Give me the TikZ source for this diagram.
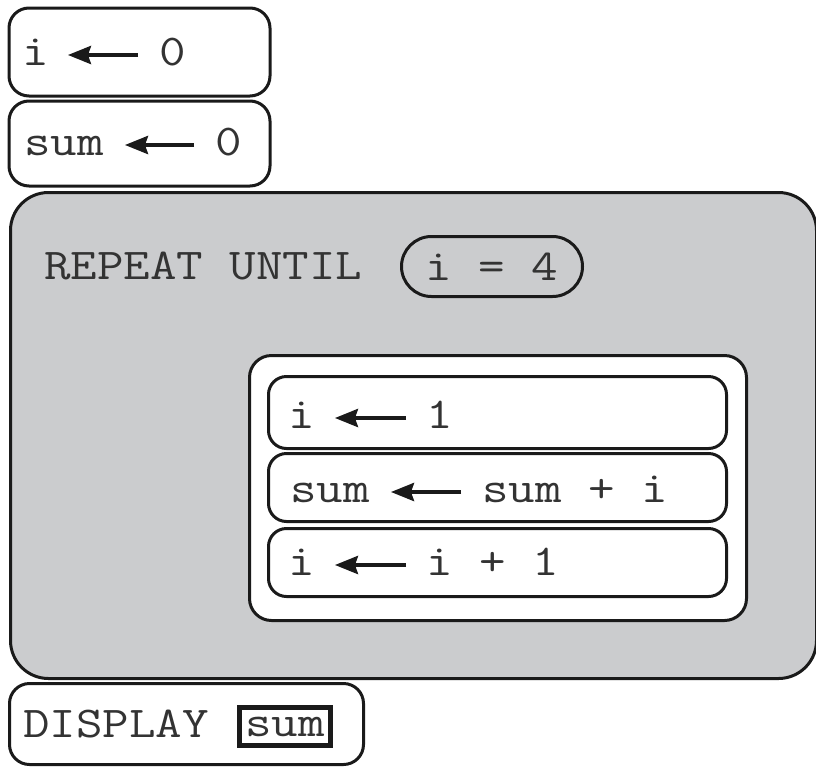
\documentclass[tikz,border=0pt]{standalone}
\usepackage{fontspec}
\setmonofont{Latin Modern Mono}[FakeStretch=1.17]
\usetikzlibrary{arrows.meta}
\definecolor{panelgray}{HTML}{CBCCCE}
\definecolor{ink}{HTML}{1A1A1A}
\definecolor{txtc}{HTML}{333333}
\tikzset{
  box/.style={draw=ink, line width=3pt, fill=white, rectangle, inner sep=0pt},
  txt/.style={inner sep=0pt, text=txtc, font=\fontsize{44}{48}\selectfont\ttfamily},
  asg/.style={draw=ink, line width=4pt, -{Stealth[length=23pt,width=18pt,inset=3pt]}},
}
\begin{document}
\begin{tikzpicture}[x=1pt,y=-1pt]
\useasboundingbox (0,0) rectangle (816,766);
% top statements
\node[box, rounded corners=20pt, minimum width=261pt, minimum height=88pt] (s1) at (139.5,52) {};
\node[box, rounded corners=20pt, minimum width=261pt, minimum height=85pt] (s2) at (139.5,143.5) {};
% repeat panel
\node[box, fill=panelgray, rounded corners=38pt, minimum width=806pt, minimum height=486pt] (rep) at (413.5,435.5) {};
\node[txt, anchor=base west] (reptxt) at (44,279) {REPEAT UNTIL};
\node[box, fill=panelgray, rounded corners=30pt, minimum width=181pt, minimum height=60pt, txt, draw=ink, line width=3pt] (cond) at (492,266.5) {i = 4};
% inner body
\node[box, rounded corners=22pt, minimum width=497pt, minimum height=265pt] (body) at (498,488) {};
\node[box, rounded corners=18pt, minimum width=458pt, minimum height=72pt] (b1) at (497.5,412.5) {};
\node[box, rounded corners=18pt, minimum width=458pt, minimum height=68pt] (b2) at (497.5,487.5) {};
\node[box, rounded corners=18pt, minimum width=458pt, minimum height=68pt] (b3) at (497.5,562.5) {};
% display
\node[box, rounded corners=20pt, minimum width=354pt, minimum height=81pt] (disp) at (186.5,724) {};
\node[txt, anchor=base west] (disptxt) at (23,737) {DISPLAY};
\node[draw=ink, line width=4.5pt, fill=white, inner sep=0pt, minimum width=91pt, minimum height=38pt, txt] (dispsum) at (285,726.5) {sum};
% statement texts
\node[txt, anchor=base west] (l1) at (22,65) {i};
\node[txt, anchor=base west] (r1) at (159,65) {0};
\node[txt, anchor=base west] (l2) at (24,155) {sum};
\node[txt, anchor=base west] (r2) at (215,155) {0};
\node[txt, anchor=base west] (l3) at (288,428) {i};
\node[txt, anchor=base west] (r3) at (426,428) {1};
\node[txt, anchor=base west] (l4) at (290,502) {sum};
\node[txt, anchor=base west] (r4) at (482,502) {sum + i};
\node[txt, anchor=base west] (l5) at (288,575) {i};
\node[txt, anchor=base west] (r5) at (426,575) {i + 1};
% assignment arrows
\draw[asg] ([shift={(-21,-10)}]r1.base west) -- ([shift={(19,-10)}]l1.base east);
\draw[asg] ([shift={(-21,-10)}]r2.base west) -- ([shift={(21,-10)}]l2.base east);
\draw[asg] ([shift={(-20,-10)}]r3.base west) -- ([shift={(20,-10)}]l3.base east);
\draw[asg] ([shift={(-21,-10)}]r4.base west) -- ([shift={(21,-10)}]l4.base east);
\draw[asg] ([shift={(-20,-10)}]r5.base west) -- ([shift={(20,-10)}]l5.base east);
\end{tikzpicture}
\end{document}
